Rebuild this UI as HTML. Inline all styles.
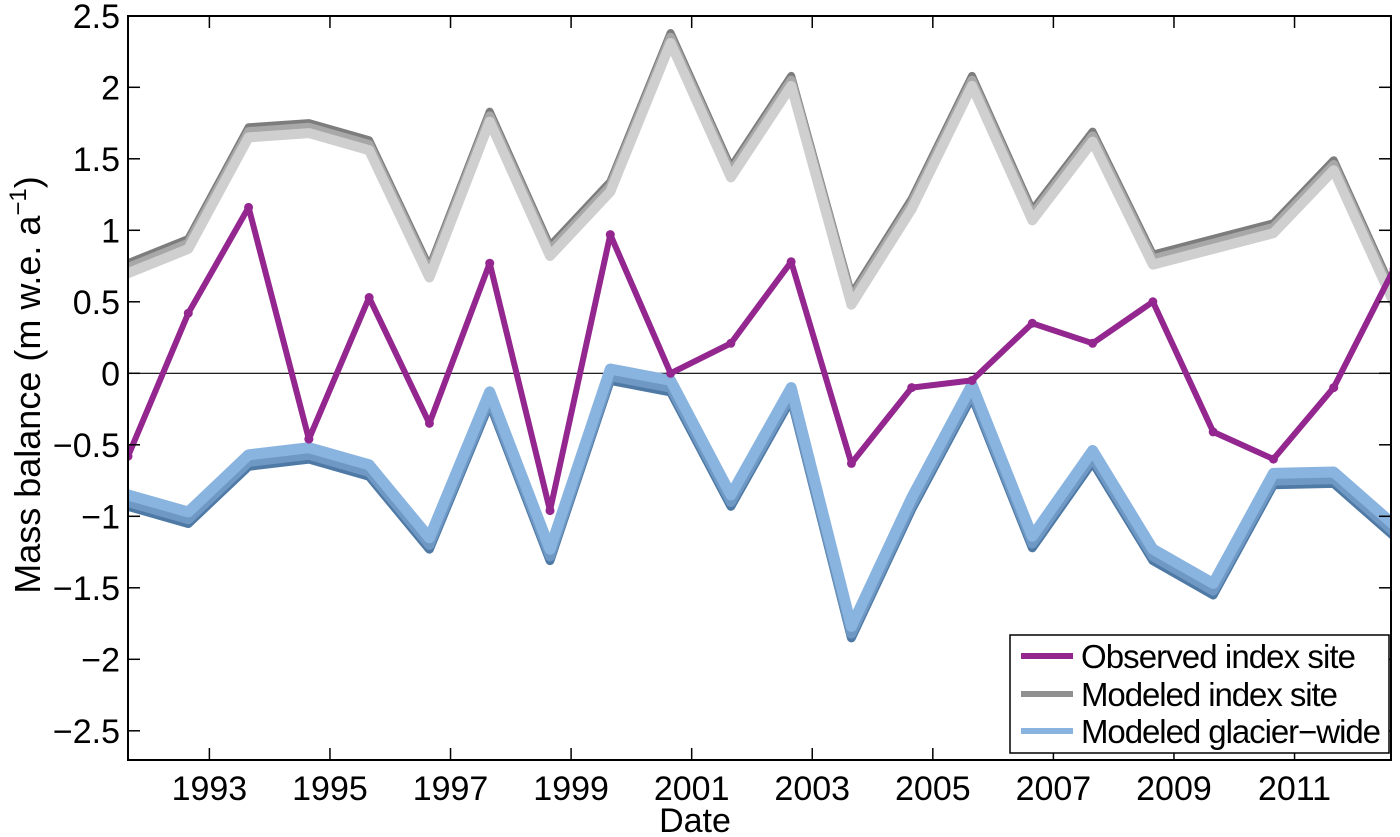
<!DOCTYPE html>
<html><head><meta charset="utf-8"><style>
body{margin:0;background:#fff;}
svg{display:block;font-family:"Liberation Sans",sans-serif;}
</style></head><body>
<svg id="chart" width="1400" height="837">
<defs><clipPath id="clip"><rect x="128" y="2" width="1264" height="759"/></clipPath></defs>
<g id="plot" clip-path="url(#clip)"></g>
<g id="axes"></g>
<text x="40" y="385" font-size="36" text-anchor="middle" transform="rotate(-90 40 385)">Mass balance (m w.e. a<tspan dy="-14" font-size="24">−1</tspan><tspan dy="14">)</tspan></text>
<text x="695" y="832" font-size="34" text-anchor="middle">Date</text>
<g>
<rect x="1010" y="635" width="379" height="118" fill="#fff" stroke="#000" stroke-width="1.5"/>
<line x1="1021" y1="656" x2="1073" y2="656" stroke="#93278f" stroke-width="6"/>
<text x="1081" y="668" font-size="33" textLength="275">Observed index site</text>
<line x1="1021" y1="694" x2="1073" y2="694" stroke="#909090" stroke-width="6"/>
<text x="1081" y="706" font-size="33" textLength="257">Modeled index site</text>
<line x1="1021" y1="731" x2="1073" y2="731" stroke="#8ab4e0" stroke-width="6"/>
<text x="1081" y="743" font-size="33" textLength="300">Modeled glacier−wide</text>
</g>
</svg>
<script>
const years = [1991.65,1992.65,1993.65,1994.65,1995.65,1996.65,1997.65,1998.65,1999.65,2000.65,2001.65,2002.65,2003.65,2004.65,2005.65,2006.65,2007.65,2008.65,2009.65,2010.65,2011.65,2012.65];
const observed = [-0.58,0.42,1.16,-0.46,0.53,-0.35,0.77,-0.96,0.97,0.0,0.21,0.78,-0.63,-0.1,-0.05,0.35,0.21,0.5,-0.41,-0.6,-0.1,0.73];
const modeledIndex = [0.73,0.9,1.68,1.71,1.59,0.7,1.79,0.85,1.3,2.34,1.4,2.04,0.51,1.18,2.04,1.1,1.65,0.79,0.9,1.01,1.45,0.52];
const modeledGlacier = [-0.88,-1.0,-0.6,-0.55,-0.67,-1.18,-0.16,-1.26,0.0,-0.08,-0.88,-0.13,-1.8,-0.9,-0.11,-1.17,-0.57,-1.26,-1.5,-0.73,-0.72,-1.09];
const yTicks = [-2.5,-2,-1.5,-1,-0.5,0,0.5,1,1.5,2,2.5];
const yTickLabels = ["−2.5","−2","−1.5","−1","−0.5","0","0.5","1","1.5","2","2.5"];
const xTicks = [1993,1995,1997,1999,2001,2003,2005,2007,2009,2011];

const X0=128,X1=1391,Y0=760,YT=16;
const xmin=1991.65,xmax=2012.6;
const xs=t=>X0+(t-xmin)/(xmax-xmin)*(X1-X0);
const ys=v=>373.3-v*143;
const NS="http://www.w3.org/2000/svg";
const plot=document.getElementById('plot'),axes=document.getElementById('axes');
function mk(tag,attrs,parent){const e=document.createElementNS(NS,tag);for(const k in attrs)e.setAttribute(k,attrs[k]);parent.appendChild(e);return e;}
function pts(arr,off){return arr.map((v,i)=>xs(years[i]).toFixed(1)+','+ys(v+off).toFixed(1)).join(' ');}

let z=mk('line',{x1:X0,x2:X1,y1:ys(0),y2:ys(0),stroke:'#000','stroke-width':1.2},plot);



[[0.04,'#7d7d7d',8],[0.01,'#a8a8a8',9],[-0.03,'#cfcfcf',10]].forEach(([o,c,w])=>{
 const l=mk('polyline',{points:pts(modeledIndex,o),fill:'none',stroke:c,'stroke-width':w,'stroke-linejoin':'round','stroke-linecap':'round'},plot);
 
 
});
[[-0.05,'#4f7aa5',9],[-0.02,'#6f98c4',10],[0.03,'#8ab4e0',11]].forEach(([o,c,w])=>{
 const l=mk('polyline',{points:pts(modeledGlacier,o),fill:'none',stroke:c,'stroke-width':w,'stroke-linejoin':'round','stroke-linecap':'round'},plot);
 
 
});
const ol=mk('polyline',{points:pts(observed,0),fill:'none',stroke:'#93278f','stroke-width':6,'stroke-linejoin':'round'},plot);


observed.forEach((v,i)=>{
 const c=mk('circle',{cx:xs(years[i]),cy:ys(v),r:4.5,fill:'#93278f'},plot);
 
 
});

const fr=mk('rect',{x:X0,y:YT,width:X1-X0,height:Y0-YT,fill:'none',stroke:'#000','stroke-width':2},axes);


yTicks.forEach((v,i)=>{
 const y=ys(v);
 mk('line',{x1:X0,x2:X0+12,y1:y,y2:y,stroke:'#000','stroke-width':1.5},axes);
 mk('line',{x1:X1-12,x2:X1,y1:y,y2:y,stroke:'#000','stroke-width':1.5},axes);
 const t=mk('text',{x:X0-8,y:y+12,'font-size':34,'text-anchor':'end'},axes);
 t.textContent=yTickLabels[i];
 
 
});
xTicks.forEach(v=>{
 const x=xs(v);
 mk('line',{x1:x,x2:x,y1:Y0,y2:Y0-12,stroke:'#000','stroke-width':1.5},axes);
 mk('line',{x1:x,x2:x,y1:YT,y2:YT+12,stroke:'#000','stroke-width':1.5},axes);
 const t=mk('text',{x:x,y:Y0+40,'font-size':34,'text-anchor':'middle'},axes);
 t.textContent=v;
 
 
});
</script>
</body></html>
